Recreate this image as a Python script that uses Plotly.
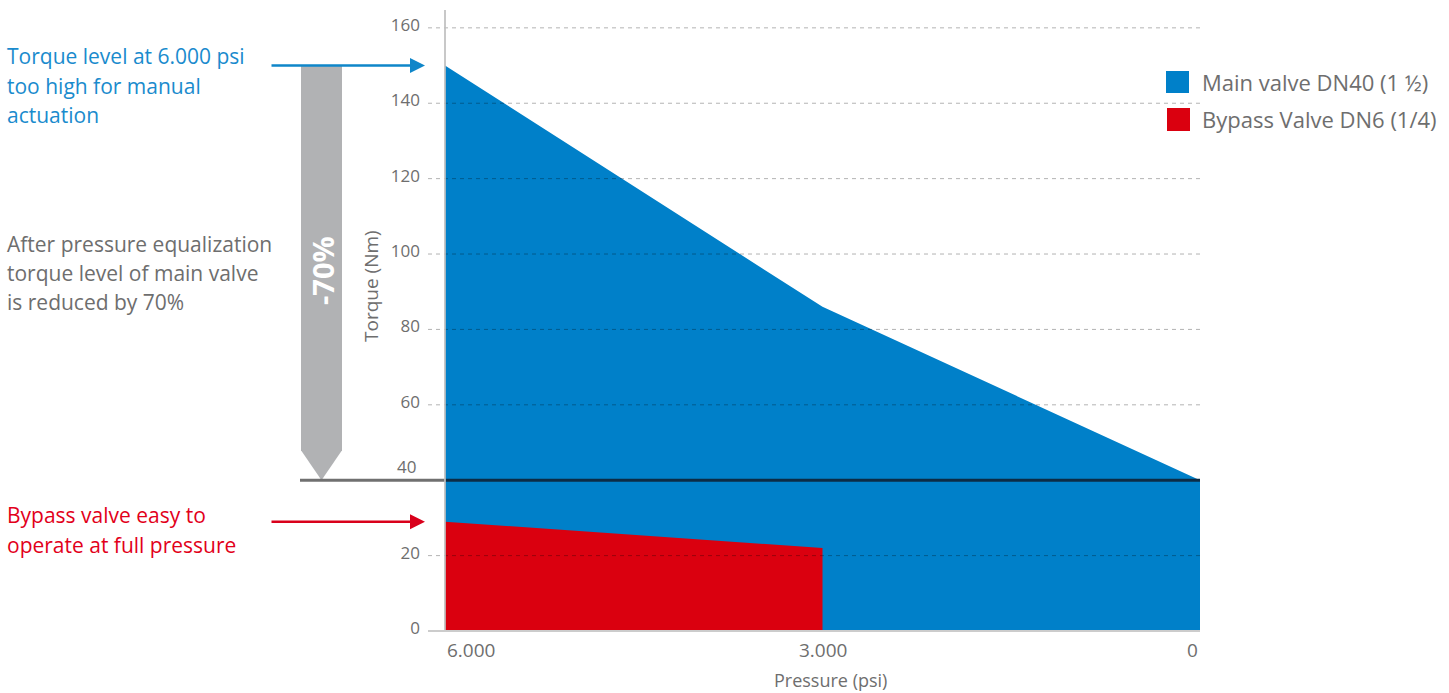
import plotly.graph_objects as go

# ---------------- data ----------------
pressure_psi = [6000, 3000, 0]
main_valve_torque = [150, 86, 40]
bypass_pressure_psi = [6000, 3000]
bypass_valve_torque = [29, 22]
x_tick_values = [6000, 3000, 0]
x_tick_labels = ["6.000", "3.000", "0"]
y_tick_values = [0, 20, 40, 60, 80, 100, 120, 140, 160]
y_tick_labels = ["0", "20", "40", "60", "80", "100", "120", "140", "160"]
series_names = ["Main valve DN40 (1 ½)", "Bypass Valve DN6 (1/4)"]
equalized_level = 40
reduction_label = "-70%"
note_high = ["Torque level at 6.000 psi", "too high for manual", "actuation"]
note_reduced = ["After pressure equalization", "torque level of main valve", "is reduced by 70%"]
note_bypass = ["Bypass valve easy to", "operate at full pressure"]
x_title = "Pressure (psi)"
y_title = "Torque (Nm)"

# ---------------- style / layout ----------------
FONT = "Open Sans"
BLUE = "#0080C9"
RED = "#DA000F"
BLUE_TXT = "#1A8BCD"
RED_TXT = "#E2001A"
GRAY_TXT = "#6E6E6E"
ARROW_GRAY = "#B1B2B4"

W, H = 1449, 693
L, R, T, B = 445, 249, 9, 62
PW, PH = W - L - R, H - T - B
Y_MAX = 165


def px(xpix):
    return (xpix - L) / PW


def py(ypix):
    return (H - B - ypix) / PH


fig = go.Figure()
fig.add_trace(go.Scatter(x=pressure_psi, y=main_valve_torque, mode="none", fill="tozeroy",
                         fillcolor=BLUE, name=series_names[0], showlegend=False, hoverinfo="x+y"))
fig.add_trace(go.Scatter(x=bypass_pressure_psi, y=bypass_valve_torque, mode="none", fill="tozeroy",
                         fillcolor=RED, name=series_names[1], showlegend=False, hoverinfo="x+y"))

shapes = []
# dashed gridlines
for v in y_tick_values:
    if v in (0, equalized_level):
        continue
    shapes.append(dict(type="line", xref="paper", yref="y", x0=px(428), x1=1, y0=v, y1=v,
                       line=dict(color="rgba(0,0,0,0.3)", width=1, dash="4px,4px")))
# equalized level line
shapes.append(dict(type="line", xref="paper", yref="y", x0=px(300), x1=0, y0=equalized_level,
                   y1=equalized_level, line=dict(color="#707070", width=3)))
shapes.append(dict(type="line", xref="paper", yref="y", x0=0, x1=1, y0=equalized_level,
                   y1=equalized_level, line=dict(color="#0C2C46", width=3)))
# axis lines
shapes.append(dict(type="line", xref="paper", yref="paper", x0=0, x1=0, y0=0, y1=py(10),
                   line=dict(color="rgba(190,190,190,0.85)", width=2)))
shapes.append(dict(type="line", xref="paper", yref="paper", x0=px(428), x1=1, y0=0, y1=0,
                   line=dict(color="#CCCCCC", width=2)))
# gray reduction arrow
x0g, x1g, xcg = px(301), px(342), px(321.5)
shoulder = equalized_level + 30 / (PH / Y_MAX)
shapes.append(dict(type="path", xref="paper", yref="y",
                   path=f"M {x0g},{main_valve_torque[0]} L {x1g},{main_valve_torque[0]} "
                        f"L {x1g},{shoulder} L {xcg},{equalized_level} L {x0g},{shoulder} Z",
                   fillcolor=ARROW_GRAY, line=dict(width=0), layer="below"))
# legend squares
shapes.append(dict(type="rect", xref="paper", yref="paper", x0=px(1166), x1=px(1189),
                   y0=py(93), y1=py(71), fillcolor=BLUE, line=dict(width=0)))
shapes.append(dict(type="rect", xref="paper", yref="paper", x0=px(1167), x1=px(1190),
                   y0=py(131), y1=py(108), fillcolor=RED, line=dict(width=0)))

ann = []
# x tick labels
for i, (v, lab) in enumerate(zip(x_tick_values, x_tick_labels)):
    anchor = "left" if i == 0 else ("right" if i == len(x_tick_values) - 1 else "center")
    ann.append(dict(x=v, xref="x", y=py(650), yref="paper", text=lab, showarrow=False,
                    xanchor=anchor, yanchor="middle", font=dict(family=FONT, size=19, color=GRAY_TXT)))
# special "40" label raised above thick line
ann.append(dict(x=0, xref="paper", y=equalized_level, yref="y", text=str(equalized_level),
                showarrow=False, xanchor="right", yanchor="middle", xshift=-27, yshift=14,
                font=dict(family=FONT, size=17, color=GRAY_TXT)))
# axis titles
ann.append(dict(x=px(830), y=py(680), xref="paper", yref="paper", text=x_title, showarrow=False,
                xanchor="center", yanchor="middle", font=dict(family=FONT, size=18, color=GRAY_TXT)))
ann.append(dict(x=px(371), y=py(286), xref="paper", yref="paper", text=y_title, showarrow=False,
                textangle=-90, xanchor="center", yanchor="middle",
                font=dict(family=FONT, size=19, color=GRAY_TXT)))
# reduction label
ann.append(dict(x=px(322), y=py(271), xref="paper", yref="paper", text=f"<b>{reduction_label}</b>",
                showarrow=False, textangle=-90, xanchor="center", yanchor="middle",
                font=dict(family=FONT, size=29, color="white")))
# notes
def add_lines(lines, centers, color):
    for line, c in zip(lines, centers):
        ann.append(dict(x=px(5), y=py(c), xref="paper", yref="paper", text=line, showarrow=False,
                        xanchor="left", yanchor="middle", font=dict(family=FONT, size=21, color=color)))

add_lines(note_high, [56, 86, 115], BLUE_TXT)
add_lines(note_reduced, [244, 273, 302], GRAY_TXT)
add_lines(note_bypass, [515, 545], RED_TXT)
# arrows
ann.append(dict(x=px(425), y=main_valve_torque[0], xref="paper", yref="y", text="", showarrow=True,
                ax=-155, ay=0, axref="pixel", ayref="pixel", arrowhead=2, arrowsize=1.2,
                arrowwidth=2.5, arrowcolor="#0F86C9", standoff=0))
ann.append(dict(x=px(425), y=bypass_valve_torque[0], xref="paper", yref="y", text="", showarrow=True,
                ax=-155, ay=0, axref="pixel", ayref="pixel", arrowhead=2, arrowsize=1.2,
                arrowwidth=2.5, arrowcolor="#D9001B", standoff=0))
# legend texts
for name, c in zip(series_names, [82.5, 119.5]):
    ann.append(dict(x=px(1200), y=py(c), xref="paper", yref="paper", text=name, showarrow=False,
                    xanchor="left", yanchor="middle", font=dict(family=FONT, size=22, color=GRAY_TXT)))

fig.update_layout(
    width=W, height=H, margin=dict(l=L, r=R, t=T, b=B),
    paper_bgcolor="white", plot_bgcolor="white",
    showlegend=False, shapes=shapes, annotations=ann,
    font=dict(family=FONT, color=GRAY_TXT),
    xaxis=dict(range=[x_tick_values[0], x_tick_values[-1]], showgrid=False, zeroline=False,
               showline=False, showticklabels=False, ticks=""),
    yaxis=dict(range=[0, Y_MAX], tickvals=y_tick_values,
               ticktext=["" if v == equalized_level else t for v, t in zip(y_tick_values, y_tick_labels)],
               showgrid=False, zeroline=False, showline=False, ticks="",
               ticklabelstandoff=24, ticklabelshift=-3,
               tickfont=dict(family=FONT, size=17, color=GRAY_TXT)),
)

fig.write_html(
    "out.html",
    config={"displayModeBar": False},
    post_script="document.body.style.margin='0';document.body.style.padding='0';"
                "document.body.style.overflow='hidden';",
)
